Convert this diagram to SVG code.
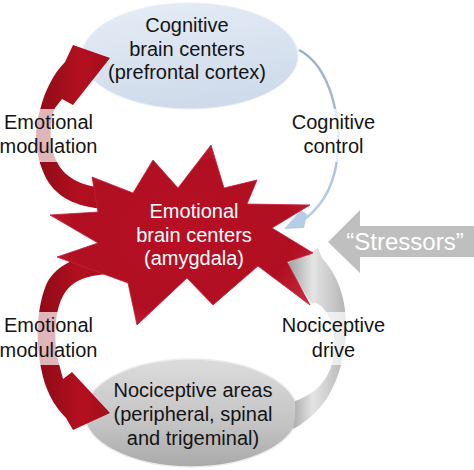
<svg xmlns="http://www.w3.org/2000/svg" width="474" height="470" viewBox="0 0 474 470">
<defs>
<linearGradient id="gBlue" x1="0" y1="0" x2="0.3" y2="1">
<stop offset="0" stop-color="#e6edf6"/><stop offset="1" stop-color="#cfdbeb"/>
</linearGradient>
<linearGradient id="gGrayEl" x1="0" y1="0" x2="0" y2="1">
<stop offset="0" stop-color="#dcdcdc"/><stop offset="0.6" stop-color="#c4c4c4"/><stop offset="1" stop-color="#a9a9a9"/>
</linearGradient>
<linearGradient id="gRed" x1="0" y1="0" x2="1" y2="0">
<stop offset="0" stop-color="#8e0a16"/><stop offset="0.6" stop-color="#b3101f"/><stop offset="1" stop-color="#a50d1c"/>
</linearGradient>
<radialGradient id="gStar" cx="0.5" cy="0.5" r="0.6">
<stop offset="0" stop-color="#b80f24"/><stop offset="0.7" stop-color="#b00f22"/><stop offset="1" stop-color="#c8283c"/>
</radialGradient>
<linearGradient id="gGrayArr" x1="0" y1="0" x2="1" y2="0">
<stop offset="0" stop-color="#9a9a9a"/><stop offset="0.45" stop-color="#e4e4e4"/><stop offset="1" stop-color="#b4b4b4"/>
</linearGradient>
<linearGradient id="gLine" x1="0" y1="0" x2="0" y2="1">
<stop offset="0" stop-color="#9aafc6"/><stop offset="1" stop-color="#b7d0ea"/>
</linearGradient>
<style>
.t{font-family:"Liberation Sans",Arial,sans-serif;font-size:20px;fill:#141414;text-anchor:middle}
.w{fill:#ffffff}
.bg{fill:#ffffff;opacity:0.7}
</style>
</defs>

<g id="node-cognitive">
<ellipse cx="190" cy="56" rx="108" ry="53" fill="url(#gBlue)" stroke="#e9eff7" stroke-width="1"/>
<text class="t" x="187" y="32">Cognitive</text>
<text class="t" x="187" y="55.5">brain centers</text>
<text class="t" x="187" y="79">(prefrontal cortex)</text>
</g>

<g id="node-nociceptive">
<ellipse cx="191" cy="413" rx="107" ry="54" fill="url(#gGrayEl)" stroke="#ececec" stroke-width="1.5"/>
<text class="t" x="193" y="397">Nociceptive areas</text>
<text class="t" x="193" y="421">(peripheral, spinal</text>
<text class="t" x="193" y="445">and trigeminal)</text>
</g>

<g id="connectors">
<path id="noci-drive" fill="url(#gGrayArr)" d="M286,264 L318,248 L322,258 C338,275 347,300 346,330 C345,360 336,388 322,405 C313,416 303,424 293,429 Q296,415 295,401 C309,396 322,388 330,370 C337,352 335,326 326,312 C321,305 316,301 312,304 Z"/>
<path id="emo-mod-up" fill="url(#gRed)" d="M104,188 C85,186 66,180 57,162 C49,146 49,122 55,108 L62,99 L73,105 L110,58 L73,45 L65,62 C54,73 45,90 40,110 C33,132 35,160 49,183 C61,200 80,207 104,209 Z"/>
<path id="emo-mod-down" fill="url(#gRed)" d="M110,274 C90,275 72,279 63,296 C54,312 54,342 58,360 L63,379 L72,372 L110,413 L73,430 L66,418 C54,406 45,390 41,368 C35,340 37,305 47,283 C57,264 78,256 104,253 Z"/>
<path id="cog-ctrl" fill="none" stroke="url(#gLine)" stroke-width="2.5" d="M299,50 C330,66 343,120 337,160 C333,190 318,212 296,225"/>
<polygon id="cog-ctrl-head" fill="#b5cde6" points="284,229 301,210 307,214 304,228"/>
<polygon id="stressors" fill="#bfbfbf" points="328,242 360,210 360,226 474,226 474,257 360,257 360,273"/>
</g>

<g id="node-emotional">
<polygon fill="url(#gStar)" stroke="#c3203a" stroke-width="0.8" points="211,145 224,188 257,180 247,204 310,205 272,228 313,253 287,262 310,305 258,266 213,305 187,278 137,325 128,283 57,257 98,243 50,215 98,212 92,177 133,193 153,160 178,188"/>
<text class="t w" x="194" y="218">Emotional</text>
<text class="t w" x="194" y="242">brain centers</text>
<text class="t w" x="194" y="265">(amygdala)</text>
</g>

<g id="labels">
<rect class="bg" x="0" y="109" width="99" height="53"/>
<text class="t" x="48.5" y="129">Emotional</text>
<text class="t" x="48.5" y="153">modulation</text>
<rect class="bg" x="290" y="109" width="88" height="53"/>
<text class="t" x="333.5" y="129">Cognitive</text>
<text class="t" x="333.5" y="153">control</text>
<rect class="bg" x="0" y="312" width="99" height="53"/>
<text class="t" x="48.5" y="332">Emotional</text>
<text class="t" x="48.5" y="357">modulation</text>
<rect class="bg" x="280" y="312" width="108" height="53"/>
<text class="t" x="333.5" y="332">Nociceptive</text>
<text class="t" x="333.5" y="357">drive</text>
<text class="t w" x="405" y="250" style="font-size:24px">“Stressors”</text>
</g>
</svg>
